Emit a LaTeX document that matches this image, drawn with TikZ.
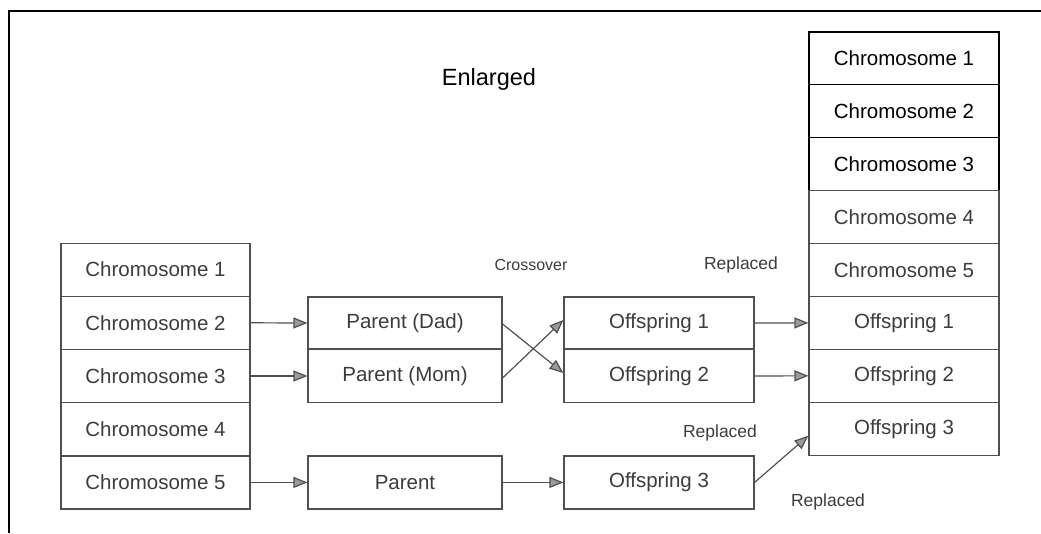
\documentclass[tikz,border=0pt]{standalone}
\usepackage{fontspec}
\setmainfont{Liberation Sans}
\usetikzlibrary{arrows.meta}
\definecolor{ln}{HTML}{505050}
\definecolor{tx}{HTML}{3c3c3c}
\definecolor{tipfill}{HTML}{9a9a9a}
\begin{document}
\begin{tikzpicture}[x=1pt,y=-1pt,
  cell/.style={draw=ln,line width=1.2pt,minimum height=53pt,inner sep=0pt,
    font=\fontsize{20.5}{24}\selectfont,text=tx},
  lcell/.style={cell,minimum width=189pt},
  mcell/.style={cell,minimum width=194pt,minimum height=53pt},
  ocell/.style={cell,minimum width=190pt,minimum height=53pt},
  rcell/.style={cell,minimum width=190pt,minimum height=52.9pt},
  rtop/.style={rcell,draw=black,text=black},
  arr/.style={draw=ln,line width=1.2pt,
    -{Triangle[length=14pt,width=11pt,fill=tipfill]}},
  lbl/.style={text=tx,inner sep=0pt},
  frame/.style={draw=black,line width=1.5pt}]
\useasboundingbox (0,0) rectangle (1041,533);
\draw[frame] (9,533) -- (9,11) -- (1041,11);

% left column
\node[lcell] (c1) at (155.5,269.6) {Chromosome 1};
\node[lcell] (c2) at (155.5,322.8) {Chromosome 2};
\node[lcell] (c3) at (155.5,376.0) {Chromosome 3};
\node[lcell] (c4) at (155.5,429.2) {Chromosome 4};
\node[lcell] (c5) at (155.5,482.4) {Chromosome 5};

% parents
\node[mcell,minimum height=52pt] (dad) at (405,323) {Parent (Dad)};
\node[mcell] (mom) at (405,376) {Parent (Mom)};
\node[mcell] (par) at (405,482.4) {Parent};

% offspring
\node[ocell,minimum height=52pt] (o1) at (659,323) {Offspring 1};
\node[ocell] (o2) at (659,376) {Offspring 2};
\node[ocell] (o3) at (659,482.4) {Offspring 3};

% right column
\node[rtop] (r1) at (904,58.4) {Chromosome 1};
\node[rtop] (r2) at (904,111.3) {Chromosome 2};
\node[rtop] (r3) at (904,164.2) {Chromosome 3};
\node[rcell] (r4) at (904,217.1) {Chromosome 4};
\node[rcell] (r5) at (904,270.0) {Chromosome 5};
\node[rcell] (r6) at (904,322.9) {Offspring 1};
\node[rcell] (r7) at (904,375.8) {Offspring 2};
\node[rcell] (r8) at (904,428.7) {Offspring 3};

% labels
\node[lbl,font=\fontsize{23.5}{26}\selectfont,text=black] (enl) at (489,79) {Enlarged};
\node[lbl,font=\fontsize{16}{18}\selectfont] (cross) at (531,265) {Crossover};
\node[lbl,font=\fontsize{17.5}{20}\selectfont] (rep1) at (741,265) {Replaced};
\node[lbl,font=\fontsize{17.5}{20}\selectfont] (rep2) at (720,433) {Replaced};
\node[lbl,font=\fontsize{17.5}{20}\selectfont] (rep3) at (828,502) {Replaced};

% connectors
\draw[arr] (c2.east) -- (dad.west);
\draw[arr] (c3.east) -- (mom.west);
\draw[arr] (c5.east) -- (par.west);
\draw[arr] (par.east) -- (o3.west);
\draw[arr] ([yshift=-1pt]dad.east) -- ([yshift=3pt]o2.west);
\draw[arr] ([yshift=-2pt]mom.east) -- ([yshift=3pt]o1.west);
\draw[arr] (o1.east) -- (r6.west);
\draw[arr] (o2.east) -- (r7.west);
\draw[arr] (o3.east) -- ([yshift=-7pt]r8.west);
\end{tikzpicture}
\end{document}
